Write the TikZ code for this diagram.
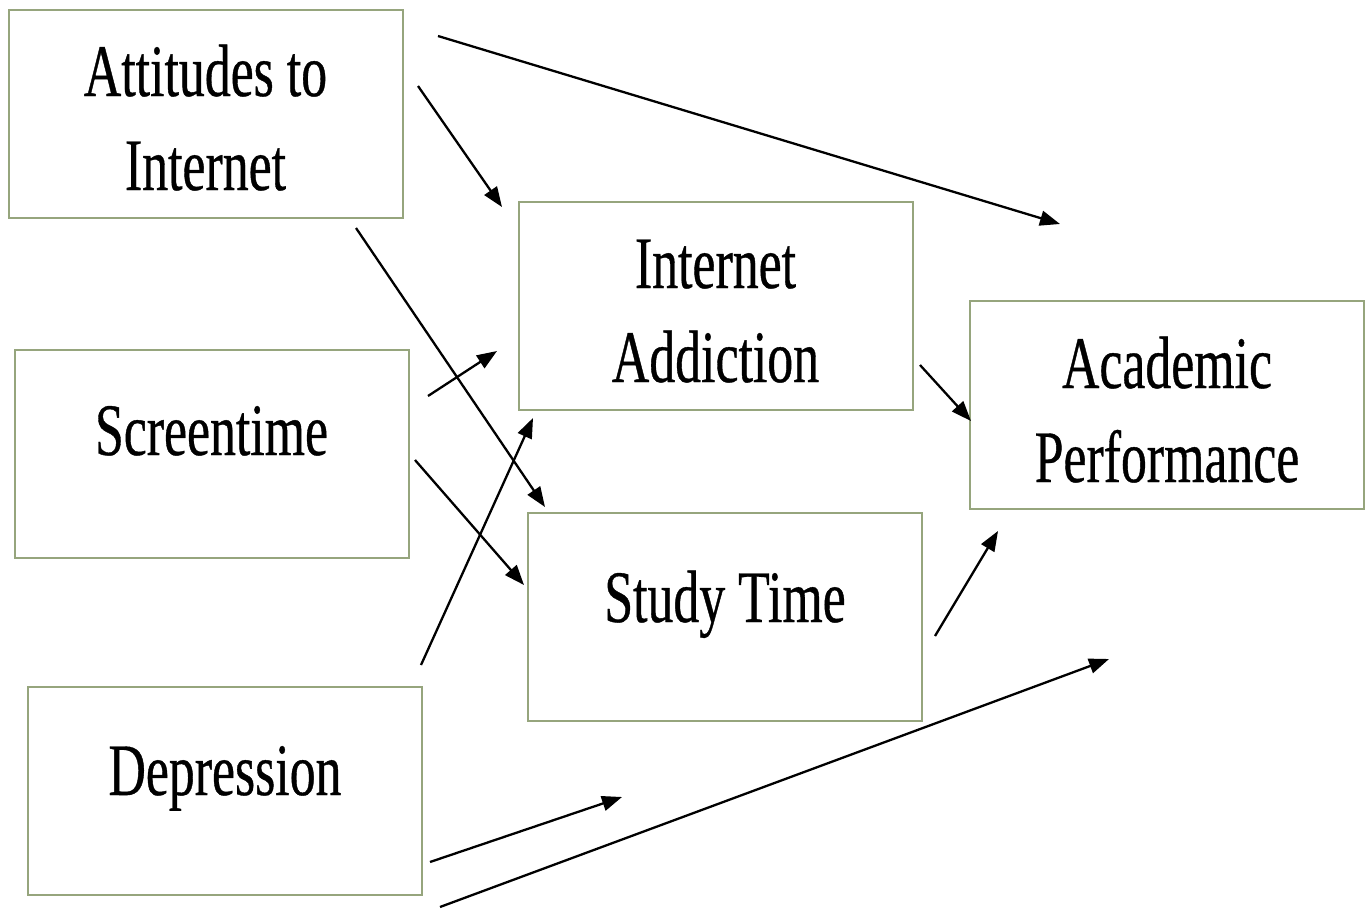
\documentclass[tikz,border=0pt]{standalone}
\usepackage{fontspec}
\setmainfont{Liberation Serif}[FakeStretch=0.7,FakeBold=0.5]
\usetikzlibrary{arrows.meta}
\definecolor{boxline}{RGB}{150,165,125}
\newcommand{\onelabel}[2]{\raisebox{-#1}[0pt][0pt]{#2}}
\newcommand{\twolabel}[3]{\raisebox{-#1}[0pt][0pt]{\begin{tabular}[b]{@{}c@{}}#2\\#3\end{tabular}}}
\begin{document}
\begin{tikzpicture}[x=0.5pt,y=-0.5pt,
  box/.style={draw=boxline,line width=1pt,minimum width=197pt,minimum height=104pt,
    inner sep=0pt,font=\fontsize{37pt}{47pt}\selectfont},
  arr/.style={line width=1.15pt,-{Triangle[length=10pt,width=7.5pt]}}]
\useasboundingbox (0,0) rectangle (1371,910);
\node[box] (att) at (205.5,114) {\twolabel{38pt}{Attitudes to}{Internet}};
\node[box] (scr) at (211.5,453.5) {\onelabel{0.75pt}{Screentime}};
\node[box] (dep) at (225,790.5) {\onelabel{2.25pt}{Depression}};
\node[box] (ia) at (715.5,305.5) {\twolabel{38.25pt}{Internet}{Addiction}};
\node[box] (st) at (725,616.5) {\onelabel{2.75pt}{Study Time}};
\node[box] (ap) at (1167,404.5) {\twolabel{38.75pt}{Academic}{Performance}};
% arrow end points
\coordinate (a1s) at (438,36);   \coordinate (a1e) at (1060,224);
\coordinate (a2s) at (418,86);   \coordinate (a2e) at (502,207);
\coordinate (a3s) at (356,228);  \coordinate (a3e) at (545,507);
\coordinate (a4s) at (428,396);  \coordinate (a4e) at (497,351);
\coordinate (a5s) at (415,460);  \coordinate (a5e) at (524,585);
\coordinate (a6s) at (421,665);  \coordinate (a6e) at (533,418);
\coordinate (a7s) at (920,365);  \coordinate (a7e) at (971,421);
\coordinate (a8s) at (935,636);  \coordinate (a8e) at (998,531);
\coordinate (a9s) at (430,862);  \coordinate (a9e) at (622,797);
\coordinate (a10s) at (440,907); \coordinate (a10e) at (1109,659);
\draw[arr] (a1s) -- (a1e);
\draw[arr] (a2s) -- (a2e);
\draw[arr] (a3s) -- (a3e);
\draw[arr] (a4s) -- (a4e);
\draw[arr] (a5s) -- (a5e);
\draw[arr] (a6s) -- (a6e);
\draw[arr] (a7s) -- (a7e);
\draw[arr] (a8s) -- (a8e);
\draw[arr] (a9s) -- (a9e);
\draw[arr] (a10s) -- (a10e);
\end{tikzpicture}
\end{document}
